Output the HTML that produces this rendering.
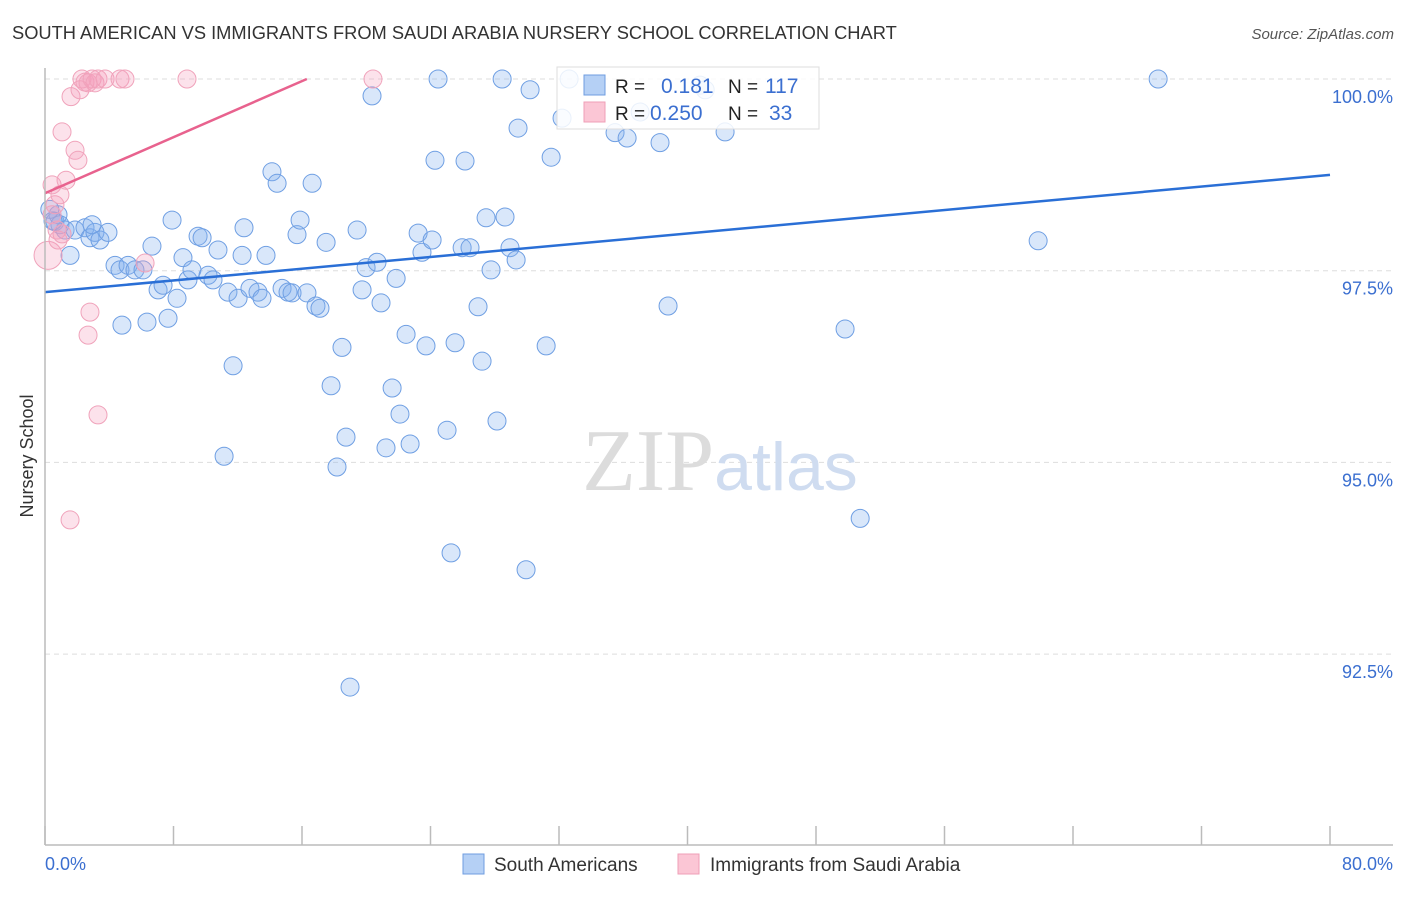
<!DOCTYPE html>
<html><head><meta charset="utf-8"><style>
body{margin:0;background:#fff;font-family:"Liberation Sans",sans-serif;}
svg text{font-family:"Liberation Sans",sans-serif;}
</style></head><body>
<svg id="chart" width="1406" height="892" viewBox="0 0 1406 892" xmlns="http://www.w3.org/2000/svg">
<text x="12" y="39" font-size="18.3" fill="#333">SOUTH AMERICAN VS IMMIGRANTS FROM SAUDI ARABIA NURSERY SCHOOL CORRELATION CHART</text>
<text x="1394" y="39" font-size="15" fill="#555" font-style="italic" text-anchor="end">Source: ZipAtlas.com</text>
<text transform="translate(33,456) rotate(-90)" font-size="18" fill="#333" text-anchor="middle">Nursery School</text>
<g id="grid"></g>
<text x="720" y="490" font-size="88" text-anchor="middle"><tspan fill="#dcdcdc" font-family="Liberation Serif">ZIP</tspan><tspan fill="#cfdcf0" font-size="68">atlas</tspan></text>
<g id="pts"></g>
<g id="lines"></g>
<line x1="45" y1="68" x2="45" y2="845" stroke="#bbb" stroke-width="1.5"/>
<line x1="45" y1="845" x2="1393" y2="845" stroke="#bbb" stroke-width="1.5"/>
<g id="xt"></g>
<text x="45" y="870" font-size="18" fill="#3b6fd0">0.0%</text>
<text x="1393" y="870" font-size="18" fill="#3b6fd0" text-anchor="end">80.0%</text>
<g>
<rect x="557" y="67" width="262" height="62" fill="#fff" fill-opacity="0.85" stroke="#ddd"/>
<rect x="584" y="75" width="21" height="20" fill="#b5d0f5" stroke="#6f9de0"/>
<rect x="584" y="102" width="21" height="20" fill="#fbc6d5" stroke="#ef9fb7"/>
<text x="615" y="93" font-size="19" fill="#222">R =</text>
<text x="661" y="93" font-size="21" fill="#3b6fd0">0.181</text>
<text x="728" y="93" font-size="19" fill="#222">N =</text>
<text x="765" y="93" font-size="21" fill="#3b6fd0">117</text>
<text x="615" y="120" font-size="19" fill="#222">R =</text>
<text x="650" y="120" font-size="21" fill="#3b6fd0">0.250</text>
<text x="728" y="120" font-size="19" fill="#222">N =</text>
<text x="769" y="120" font-size="21" fill="#3b6fd0">33</text>
</g>
<g>
<rect x="463" y="854" width="21" height="20" fill="#b5d0f5" stroke="#6f9de0"/>
<text x="494" y="871" font-size="19" fill="#333">South Americans</text>
<rect x="678" y="854" width="21" height="20" fill="#fbc6d5" stroke="#ef9fb7"/>
<text x="710" y="871" font-size="19" fill="#333">Immigrants from Saudi Arabia</text>
</g>
</svg>
<script>
const blueX=[0.62,0.81,0.93,1.25,1.56,1.87,2.49,2.80,3.11,3.42,3.92,2.93,4.36,4.67,4.79,5.17,5.60,6.10,6.35,6.66,7.04,7.35,7.66,7.91,8.22,8.59,8.90,9.15,9.53,9.78,10.15,10.46,10.77,11.15,11.39,11.71,12.02,12.27,12.39,12.76,13.26,13.51,13.76,14.13,14.45,14.76,15.13,15.38,15.69,15.88,16.31,16.63,16.87,17.12,17.50,17.81,18.18,18.49,18.74,18.99,19.43,19.74,19.99,20.36,20.67,20.92,21.23,21.61,21.86,22.10,22.48,22.73,23.23,23.47,23.72,24.10,24.28,24.47,25.03,25.28,25.53,25.97,26.15,26.46,26.96,27.21,27.46,27.77,28.14,28.46,28.64,28.95,29.33,29.45,29.95,30.20,31.20,31.51,32.19,32.63,35.49,36.24,37.05,38.29,38.79,40.78,41.10,42.34,49.81,50.75,61.83,69.30,0.3,0.5];
const blueY=[98.14,98.23,98.10,98.03,97.70,98.03,98.06,97.93,98.00,97.90,98.00,98.10,97.57,97.51,96.79,97.57,97.51,97.51,96.83,97.82,97.25,97.31,96.88,98.16,97.14,97.67,97.38,97.51,97.95,97.93,97.44,97.38,97.77,95.08,97.22,96.26,97.14,97.70,98.06,97.27,97.22,97.14,97.70,98.79,98.64,97.27,97.22,97.21,97.97,98.16,97.21,98.64,97.04,97.01,97.87,96.00,94.94,96.50,95.33,92.07,98.03,97.25,97.54,99.78,97.61,97.08,95.19,95.97,97.40,95.63,96.67,95.24,97.99,97.74,96.52,97.90,98.94,100,95.42,93.82,96.56,97.80,98.93,97.80,97.03,96.32,98.19,97.51,95.54,100,98.20,97.80,97.64,99.36,93.60,99.86,96.52,98.98,99.49,100,99.30,99.23,99.57,99.17,97.04,99.92,99.86,99.31,96.74,94.27,97.89,100,98.30,98.15];
const pinkX=[0.19,0.44,0.62,0.44,0.75,0.81,0.93,1.06,1.06,1.31,1.56,1.62,1.87,2.05,2.18,2.30,2.49,2.68,2.80,2.68,2.93,3.11,3.30,3.30,3.74,4.67,4.98,6.23,8.84,20.42];
const pinkY=[97.70,98.62,98.36,98.23,98.03,97.90,98.49,99.31,97.98,98.68,94.25,99.77,99.07,98.94,99.86,100,99.96,99.95,96.96,96.66,100,99.95,100,95.62,100,100,100,97.60,100,100];
const blueTrend=[97.22,98.75];
const pinkTrend=[98.51,100.0,16.3];
const yTicks=[100,97.5,95,92.5];
const yTickLabels=["100.0%","97.5%","95.0%","92.5%"];
const xTicks=[0,8,16,24,32,40,48,56,64,72,80];

const NS="http://www.w3.org/2000/svg";
const X=v=>45+v*(1285/80);
const Y=v=>79+(100-v)*76.68;
function mk(tag,attrs,parent){const e=document.createElementNS(NS,tag);for(const k in attrs)e.setAttribute(k,attrs[k]);parent.appendChild(e);return e;}
const grid=document.getElementById('grid');
yTicks.forEach((t,i)=>{
  const l=mk('line',{x1:45,x2:1393,y1:Y(t),y2:Y(t),stroke:'#ddd','stroke-dasharray':'5,4'},grid);
  
  
  const tx=mk('text',{x:1393,y:Y(t)+24,'font-size':18,fill:'#3b6fd0','text-anchor':'end'},grid);
  tx.textContent=yTickLabels[i];
  
  
});
const xt=document.getElementById('xt');
xTicks.forEach(t=>{
  const l=mk('line',{x1:X(t),x2:X(t),y1:826,y2:845,stroke:'#bbb','stroke-width':1.5},xt);
  
  
});
const pts=document.getElementById('pts');
blueX.forEach((x,i)=>{
  const c=mk('circle',{cx:X(x),cy:Y(blueY[i]),r:9,fill:'rgba(130,175,240,0.3)',stroke:'#6f9fe3','stroke-width':1},pts);
  
  
});
pinkX.forEach((x,i)=>{
  const c=mk('circle',{cx:X(x),cy:Y(pinkY[i]),r:i==0?14:9,fill:'rgba(245,160,188,0.3)',stroke:'#f0a3bb','stroke-width':1},pts);
  
  
});
const lines=document.getElementById('lines');
const bl=mk('line',{x1:X(0),y1:Y(blueTrend[0]),x2:X(80),y2:Y(blueTrend[1]),stroke:'#2a6fd6','stroke-width':2.5},lines);


const pl=mk('line',{x1:X(0),y1:Y(pinkTrend[0]),x2:X(pinkTrend[2]),y2:Y(pinkTrend[1]),stroke:'#e8628e','stroke-width':2.5},lines);


</script>
</body></html>
